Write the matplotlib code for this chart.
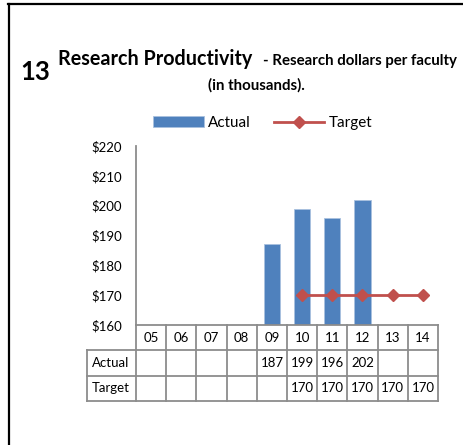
import numpy as np
import matplotlib
matplotlib.use('Agg')
import matplotlib.pyplot as plt
from matplotlib.lines import Line2D

# Research dollars per faculty (in thousands)
years = ['05', '06', '07', '08', '09', '10', '11', '12', '13', '14']
actual = [None, None, None, None, 187, 199, 196, 202, None, None]
target = [None, None, None, None, None, 170, 170, 170, 170, 170]
y_ticks = [160, 170, 180, 190, 200, 210, 220]

plt.rcParams['font.family'] = ['Lato', 'DejaVu Sans']

W, H = 464, 445
BLUE = '#4F81BD'
RED = '#C0504D'
GRID = '#8C8C8C'

def fx(px):
    return px / W

def fy(py):
    return 1 - py / H

fig = plt.figure(figsize=(W / 100, H / 100), dpi=100)

# frame lines round the panel
fig.add_artist(Line2D([fx(8), 1], [fy(4), fy(4)], color='black', lw=1.6))
fig.add_artist(Line2D([fx(9), fx(9)], [0, fy(4)], color='black', lw=1.6))

# title
fig.text(fx(20), fy(72), '13', fontsize=18.5, fontweight='bold', va='center', ha='left')
fig.text(fx(58), fy(59), 'Research Productivity', fontsize=14.2, fontweight='bold',
         va='center', ha='left')
fig.text(fx(263), fy(61), '- Research dollars per faculty', fontsize=10.8,
         fontweight='bold', va='center', ha='left')
fig.text(fx(256), fy(85), '(in thousands).', fontsize=10.8, fontweight='bold',
         va='center', ha='center')

# main chart
left, right, top, bottom = 136, 438, 146, 325
ax = fig.add_axes([fx(left), fy(bottom), fx(right - left), (bottom - top) / H])
x = np.arange(len(years))

bx = [i for i, v in zip(x, actual) if v is not None]
bv = [v for v in actual if v is not None]
bars = ax.bar(bx, bv, width=0.53, color=BLUE, edgecolor='#A9C1DF', linewidth=0.6,
              label='Actual', zorder=2)

tx = [i for i, v in zip(x, target) if v is not None]
tv = [v for v in target if v is not None]
line, = ax.plot(tx, tv, color=RED, lw=2, marker='D', markersize=6.5, label='Target',
                zorder=3)

ax.set_xlim(-0.5, len(years) - 0.5)
ax.set_ylim(160, 220)
ax.set_yticks(y_ticks)
ax.set_yticklabels(['${}'.format(v) for v in y_ticks], fontsize=9.5)
ax.tick_params(axis='y', length=0, pad=10)
ax.set_xticks([])
for s in ['top', 'right']:
    ax.spines[s].set_visible(False)
for s in ['left', 'bottom']:
    ax.spines[s].set_color(GRID)
    ax.spines[s].set_linewidth(1.3)

ax.legend([bars, line], ['Actual', 'Target'], loc='center',
          bbox_to_anchor=(fx(263), fy(123)), bbox_transform=fig.transFigure,
          ncol=2, frameon=False, fontsize=11, handlelength=3.3, handletextpad=0.3,
          columnspacing=1.5, borderaxespad=0)

# data table under the chart
tleft, tbottom = 87, 401
cell = (right - left) / len(years)
xl = -0.5 - (left - tleft) / cell
tax = fig.add_axes([fx(tleft), fy(tbottom), fx(right - tleft), (tbottom - bottom) / H])
tax.set_xlim(xl, len(years) - 0.5)
tax.set_ylim(3, 0)
tax.axis('off')

lc = dict(color=GRID, lw=1.3, clip_on=False)
for r in [1, 2, 3]:
    tax.plot([xl, len(years) - 0.5], [r, r], **lc)
tax.plot([xl, xl], [1, 3], **lc)
for k in range(len(years) + 1):
    tax.plot([k - 0.5, k - 0.5], [0, 3], **lc)

for i, yr in enumerate(years):
    tax.text(i, 0.5, yr, ha='center', va='center', fontsize=9.5)
    if actual[i] is not None:
        tax.text(i, 1.5, str(actual[i]), ha='center', va='center', fontsize=9.5)
    if target[i] is not None:
        tax.text(i, 2.5, str(target[i]), ha='center', va='center', fontsize=9.5)
tax.text(xl + 0.15, 1.5, 'Actual', ha='left', va='center', fontsize=9.5)
tax.text(xl + 0.15, 2.5, 'Target', ha='left', va='center', fontsize=9.5)

fig.savefig('out.png', dpi=100)
